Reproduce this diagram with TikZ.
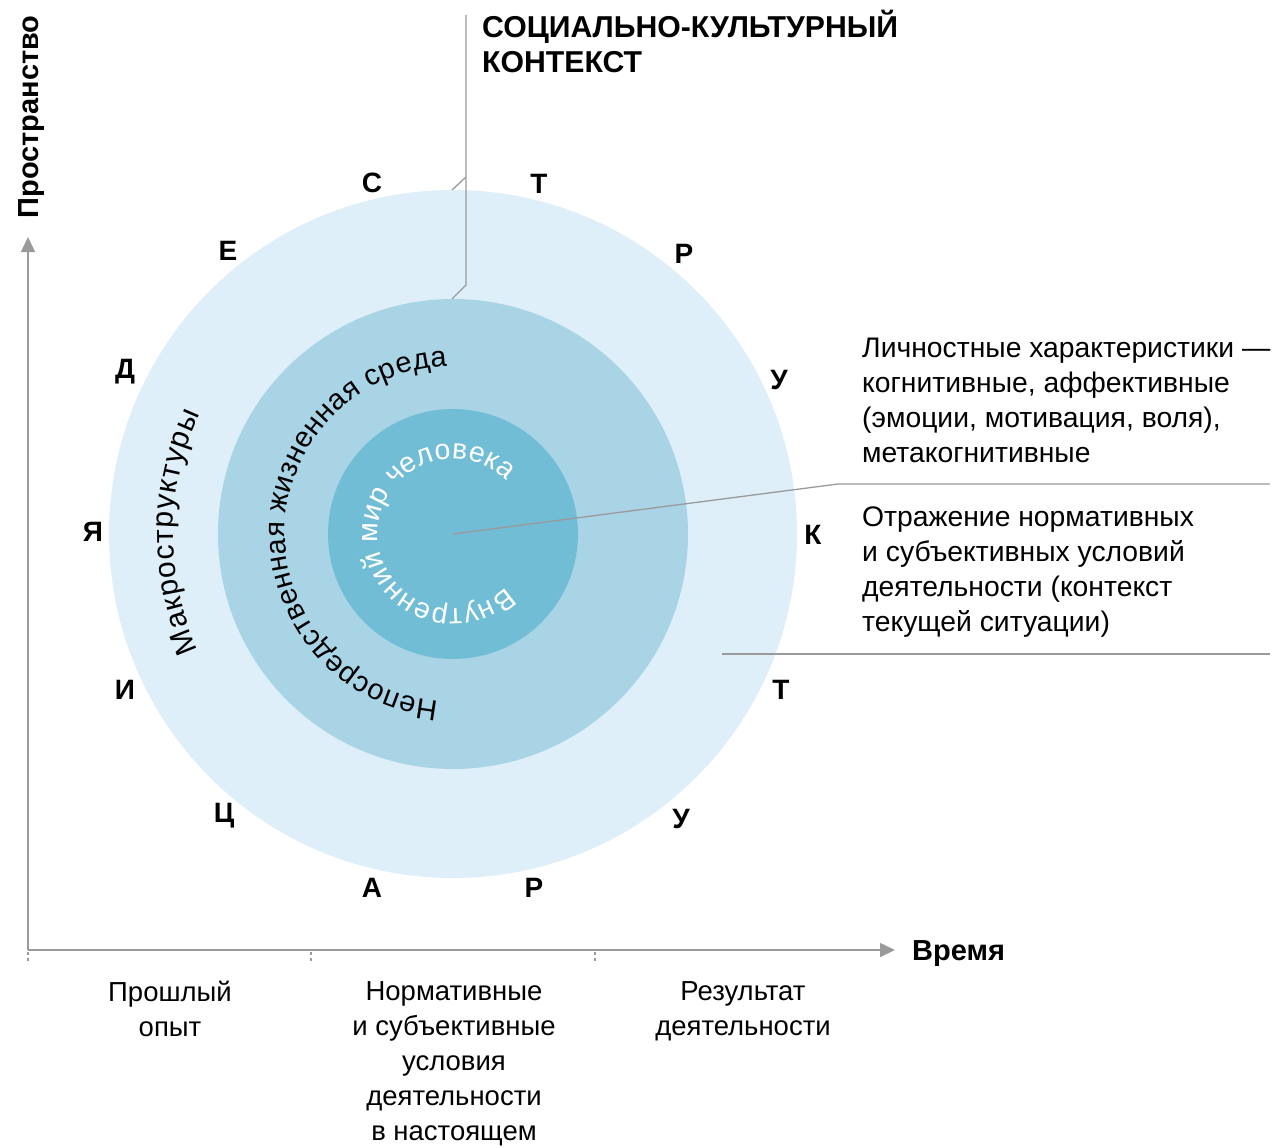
\documentclass[tikz,border=0pt]{standalone}
\usepackage{fontspec}
\setmainfont{Liberation Sans}
\usetikzlibrary{arrows.meta,decorations.text}
\definecolor{ringout}{HTML}{DEEFF9}
\definecolor{ringmid}{HTML}{A8D4E6}
\definecolor{ringin}{HTML}{72BDD6}
\definecolor{rulegray}{HTML}{9A9A9A}
\tikzset{
  letter/.style={font=\fontsize{28}{28}\selectfont\bfseries, inner sep=0pt,
                 text height=20pt, text depth=0pt},
  heading/.style={font=\fontsize{30.2}{35}\selectfont\bfseries, inner sep=0pt, align=left},
  axislabel/.style={font=\fontsize{29}{29}\selectfont\bfseries, inner sep=0pt},
  body/.style={font=\fontsize{27.5}{35}\selectfont, inner sep=0pt},
  note/.style={font=\fontsize{28.3}{35}\selectfont, inner sep=0pt},
  leader/.style={draw=rulegray, line width=1.3pt},
  axisline/.style={draw=rulegray, line width=1.6pt,
                   -{Triangle[length=15pt,width=14pt]}, fill=rulegray},
  tick/.style={draw=rulegray, line width=1.2pt, dash pattern=on 3pt off 3pt},
  ringtext/.style={decorate, decoration={text along path, text align=fit to path,
                   text={#1}}}
}
\begin{document}
\begin{tikzpicture}[x=1pt,y=-1pt]
\useasboundingbox (0,0) rectangle (1272,1148);

% concentric rings
\coordinate (O) at (453,534);
\fill[ringout] (O) circle[radius=344];
\fill[ringmid] (O) circle[radius=235];
\fill[ringin]  (O) circle[radius=125];

% ring captions along arcs
\path[ringtext={|\fontsize{30}{30}\selectfont|Макроструктуры}]
  (O) ++(155.5:280) arc[start angle=155.5, end angle=205.5, radius=280];
\path[ringtext={|\fontsize{29}{29}\selectfont|Непосредственная жизненная среда}]
  (O) ++(95:168) arc[start angle=95, end angle=268, radius=168];
\path[ringtext={|\fontsize{28.5}{28.5}\selectfont\color{white}|Внутренний мир человека}]
  (O) ++(45:75) arc[start angle=45, end angle=315, radius=75];

% letters around the outer ring
\node[letter] (l1)  at (372,182) {С};
\node[letter] (l2)  at (539,183) {Т};
\node[letter] (l3)  at (684,253) {Р};
\node[letter] (l4)  at (779,379) {У};
\node[letter] (l5)  at (813,534) {К};
\node[letter] (l6)  at (781,689) {Т};
\node[letter] (l7)  at (681,818) {У};
\node[letter] (l8)  at (534,887) {Р};
\node[letter] (l9)  at (372,887) {А};
\node[letter] (l10) at (224,812) {Ц};
\node[letter] (l11) at (125,689) {И};
\node[letter] (l12) at (93,531)  {Я};
\node[letter] (l13) at (125,368) {Д};
\node[letter] (l14) at (228,250) {Е};

% heading with its leader
\node[heading, anchor=north west] (ctx) at (482,10)
  {СОЦИАЛЬНО-КУЛЬТУРНЫЙ\\КОНТЕКСТ};
\coordinate (ldTop) at (466,15);
\coordinate (ldOuterBend) at (466,177);
\coordinate (ldOuter) at (452,190);
\coordinate (ldMidBend) at (466,285);
\coordinate (ldMid) at (452,299);
\draw[leader] (ldTop) -- (ldMidBend) -- (ldMid);
\draw[leader] (ldOuterBend) -- (ldOuter);

% right-hand notes
\node[note, anchor=north west, align=left] (traits) at (862,338)
  {Личностные характеристики —\\когнитивные, аффективные\\(эмоции, мотивация, воля),\\метакогнитивные};
\node[note, anchor=north west, align=left] (reflect) at (862,507)
  {Отражение нормативных\\и субъективных условий\\деятельности (контекст\\текущей ситуации)};
\coordinate (ptBend) at (838,484);
\coordinate (ptEnd) at (1270,484);
\draw[leader] (O) -- (ptBend) -- (ptEnd);
\coordinate (sepStart) at (722,654);
\coordinate (sepEnd) at (1270,654);
\draw[leader] (sepStart) -- (sepEnd);

% axes
\coordinate (orig) at (28,950);
\coordinate (yEnd) at (28,237);
\coordinate (xEnd) at (895,950);
\draw[axisline] (orig) -- (yEnd);
\draw[axisline] (orig) -- (xEnd);
\node[axislabel, anchor=base west] (time) at (912,960) {Время};
\node[axislabel, anchor=base, rotate=90] (space) at (38,117) {Пространство};

% ticks on the time axis
\coordinate (t1a) at (28,952);  \coordinate (t1b) at (28,962);
\coordinate (t2a) at (311,952); \coordinate (t2b) at (311,962);
\coordinate (t3a) at (595,952); \coordinate (t3b) at (595,962);
\draw[tick] (t1a) -- (t1b);
\draw[tick] (t2a) -- (t2b);
\draw[tick] (t3a) -- (t3b);

% period captions
\node[body, anchor=north, align=center] (past) at (170,981) {Прошлый\\опыт};
\node[body, anchor=north, align=center] (now) at (454,981)
  {Нормативные\\и субъективные\\условия\\деятельности\\в настоящем};
\node[body, anchor=north, align=center] (result) at (743,981) {Результат\\деятельности};
\end{tikzpicture}
\end{document}
